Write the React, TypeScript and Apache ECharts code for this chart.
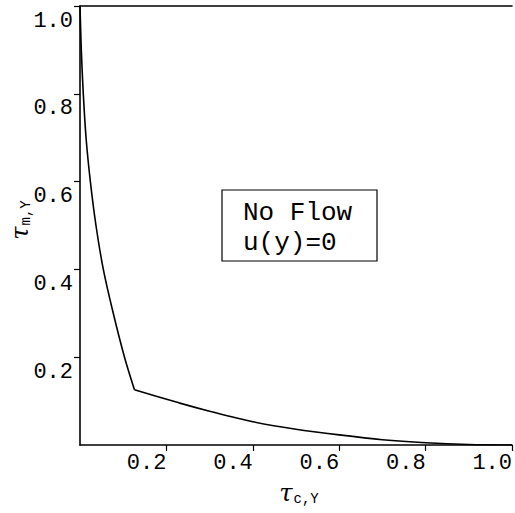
import React, { useEffect, useRef } from "react";
import * as echarts from "echarts";

// Curve: steep branch down to the kink near (0.126, 0.126)
const branch1X = [0, 0.003, 0.0076, 0.014, 0.024, 0.037, 0.054, 0.077, 0.103, 0.126];
const branch1Y = [1.0, 0.9, 0.8, 0.7, 0.6, 0.5, 0.4, 0.3, 0.2, 0.126];
// ...then the shallow branch down to (1, 0)
const branch2X = [0.126, 0.229, 0.3, 0.4, 0.5, 0.6, 0.7, 0.8, 0.9, 1.0];
const branch2Y = [0.126, 0.096, 0.077, 0.053, 0.036, 0.023, 0.012, 0.005, 0.001, 0];

const axisMin = 0;
const axisMax = 1;
const axisStep = 0.2;

const boxLines = ["No Flow", "u(y)=0"];

const MONO = "'Liberation Mono', 'DejaVu Sans Mono', monospace";
const SERIF = "'DejaVu Serif', 'Liberation Serif', serif";

export default function App() {
  const ref = useRef<HTMLDivElement>(null);

  useEffect(() => {
    if (!ref.current) return;
    const chart = echarts.init(ref.current, undefined, { renderer: "svg" });
    const data1 = branch1X.map((x, i) => [x, branch1Y[i]]);
    const data2 = branch2X.map((x, i) => [x, branch2Y[i]]);
    const fmt = (v: number) => v.toFixed(1);
    const lineSeries = (data: number[][]) => ({
      type: "line",
      xAxisIndex: 0,
      data,
      smooth: 0.3,
      showSymbol: false,
      symbol: "none",
      lineStyle: { color: "#000", width: 1.6 },
    });

    chart.setOption({
      animation: false,
      backgroundColor: "#fff",
      grid: { left: 80, top: 6, right: -1, bottom: 68, containLabel: false },
      xAxis: [
        {
          type: "value",
          min: axisMin,
          max: axisMax,
          interval: axisStep,
          position: "bottom",
          axisLine: { show: true, lineStyle: { color: "#000", width: 1.6 } },
          axisTick: { show: true, length: 6, lineStyle: { color: "#000", width: 1.2 } },
          splitLine: { show: false },
          axisLabel: {
            showMinLabel: false,
            showMaxLabel: true,
            formatter: fmt,
            align: "right",
            margin: 7,
            fontFamily: MONO,
            fontSize: 22,
            color: "#000",
          },
        },
        {
          type: "value",
          min: axisMin,
          max: axisMax,
          position: "top",
          axisLine: { show: true, lineStyle: { color: "#000", width: 1.6 } },
          axisTick: { show: false },
          axisLabel: { show: false },
          splitLine: { show: false },
        },
      ],
      yAxis: {
        type: "value",
        min: axisMin,
        max: axisMax,
        interval: axisStep,
        axisLine: { show: true, lineStyle: { color: "#000", width: 1.6 } },
        axisTick: { show: true, length: 6, lineStyle: { color: "#000", width: 1.2 } },
        splitLine: { show: false },
        axisLabel: {
          showMinLabel: false,
          showMaxLabel: true,
          formatter: fmt,
          verticalAlign: "top",
          padding: [4, 0, 0, 0],
          margin: 7,
          fontFamily: MONO,
          fontSize: 22,
          color: "#000",
        },
      },
      series: [lineSeries(data1), lineSeries(data2)],
      graphic: [
        {
          type: "rect",
          shape: { x: 222, y: 190, width: 155, height: 71 },
          style: { fill: "#fff", stroke: "#000", lineWidth: 1.2 },
        },
        {
          type: "text",
          x: 243,
          y: 213,
          style: { text: boxLines[0], fontFamily: MONO, fontSize: 26, fill: "#000", verticalAlign: "middle", align: "left" },
        },
        {
          type: "text",
          x: 243,
          y: 243,
          style: { text: boxLines[1], fontFamily: MONO, fontSize: 26, fill: "#000", verticalAlign: "middle", align: "left" },
        },
        {
          type: "text",
          x: 299,
          y: 493,
          style: {
            text: "{t|τ}{s|c,Y}",
            align: "center",
            verticalAlign: "middle",
            rich: {
              t: { fontFamily: SERIF, fontStyle: "italic", fontSize: 24, fill: "#000" },
              s: { fontFamily: MONO, fontSize: 14, fill: "#000", padding: [12, 0, 0, 1] },
            },
          },
        },
        {
          type: "text",
          x: 20,
          y: 220,
          rotation: Math.PI / 2,
          style: {
            text: "{t|τ}{s|m,Y}",
            align: "center",
            verticalAlign: "middle",
            rich: {
              t: { fontFamily: SERIF, fontStyle: "italic", fontSize: 24, fill: "#000" },
              s: { fontFamily: MONO, fontSize: 14, fill: "#000", padding: [12, 0, 0, 1] },
            },
          },
        },
      ],
    });

    return () => chart.dispose();
  }, []);

  return (
    <div
      ref={ref}
      style={{ position: "fixed", left: 0, top: 0, width: 515, height: 513, background: "#fff" }}
    />
  );
}
